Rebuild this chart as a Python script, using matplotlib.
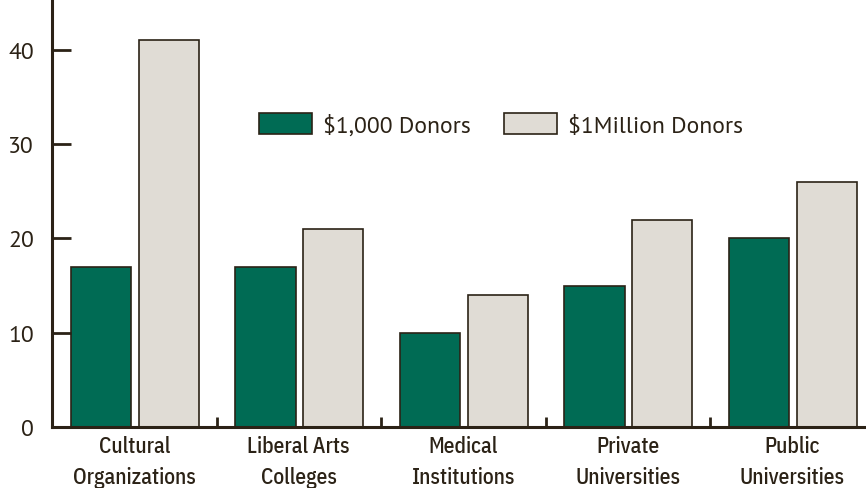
import numpy as np
import matplotlib.pyplot as plt
from matplotlib.patches import Patch

# data
categories = ["Cultural\nOrganizations", "Liberal Arts\nColleges", "Medical\nInstitutions",
              "Private\nUniversities", "Public\nUniversities"]
donors_1k = [17, 17, 10, 15, 20]
donors_1m = [41, 21, 14, 22, 26]
series_names = ["\\$1,000 Donors", "\\$1Million Donors"]

green = "#006b54"
light = "#e0dcd5"
ink = "#2b2216"

regular = ["PT Sans", "Open Sans", "DejaVu Sans"]
narrow = ["IBM Plex Sans Condensed", "DejaVu Sans"]

fig = plt.figure(figsize=(8.66, 4.89), dpi=100)
ax = fig.add_axes([52 / 866, 1 - 428 / 489, 1 - 52 / 866, 428 / 489])

x = np.arange(len(categories))
w = 0.365
ax.bar(x + 0.298, donors_1k, width=w, color=green, edgecolor=ink, linewidth=1.2)
ax.bar(x + 0.711, donors_1m, width=w, color=light, edgecolor=ink, linewidth=1.2)

ax.set_xlim(0, (866 - 52) / 164.5)
ax.set_ylim(0, 45.4)

for s in ["top", "right"]:
    ax.spines[s].set_visible(False)
for s in ["left", "bottom"]:
    ax.spines[s].set_linewidth(2.2)
    ax.spines[s].set_color(ink)

ax.set_yticks([0, 10, 20, 30, 40])
ax.tick_params(axis="y", direction="in", length=14, width=2, color=ink,
               labelsize=17, labelcolor=ink, pad=13)
for t in ax.get_yticklabels():
    t.set_family(regular)

ax.set_xticks(x + 0.5)
ax.set_xticklabels(categories, family=narrow, fontsize=15.5, fontweight="medium",
                   color=ink, linespacing=1.5)
ax.tick_params(axis="x", which="major", length=0, pad=6)
ax.set_xticks(np.arange(1, len(categories)), minor=True)
ax.tick_params(axis="x", which="minor", direction="in", length=7, width=2, color=ink)

handles = [Patch(facecolor=green, edgecolor=ink, linewidth=1.2),
           Patch(facecolor=light, edgecolor=ink, linewidth=1.2)]
fig.legend(handles, series_names, loc="center left", bbox_to_anchor=(238 / 866, 1 - 126 / 489),
           ncol=2, frameon=False, handlelength=2.25, handleheight=1.0, handletextpad=0.47,
           columnspacing=1.4, prop={"family": regular, "size": 17},
           labelcolor=ink)

plt.savefig("out.png", dpi=100)
